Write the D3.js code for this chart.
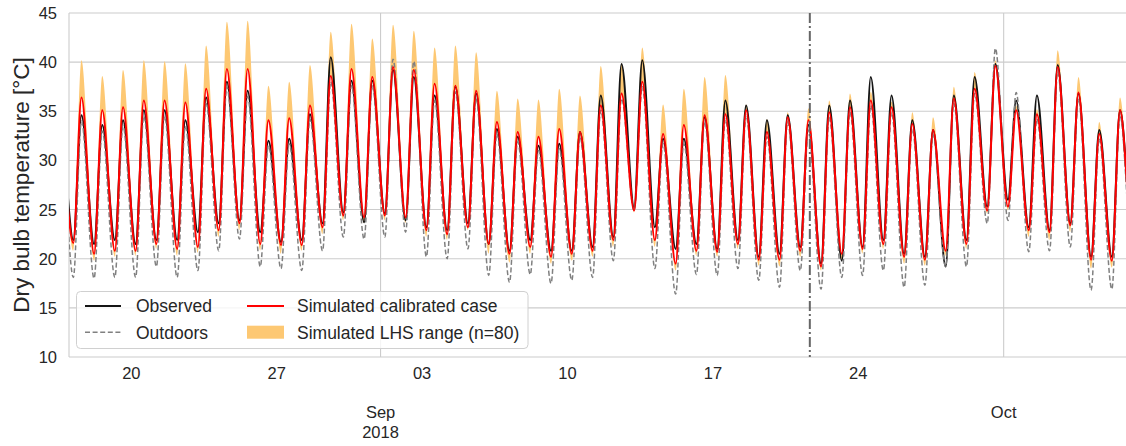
<!DOCTYPE html>
<html>
<head>
<meta charset="utf-8">
<script src="https://cdnjs.cloudflare.com/ajax/libs/d3/7.8.5/d3.min.js"></script>
<style>
body { margin: 0; background: #fff; }
svg { font-family: "Liberation Sans", Arial, sans-serif; }
</style>
</head>
<body>
<svg width="1126" height="446"></svg>
<script>
/* --------------- Datos, un valor por dia: 16 ago .. 7 oct 2018 --------------- */
const firstDay = new Date(2018, 7, 16);
const troughHour = 5;     // hora aprox. del minimo diario
const peakHour = 14.4;    // hora aprox. del maximo diario

const obsMax = [33, 34.6, 33.6, 34.1, 35.1, 35.1, 34.1, 36.4, 38.0, 37.1, 32.0, 32.2, 34.7, 40.5, 38.1, 38.1, 39.2, 38.5, 36.6, 37.5, 36.8, 33.2, 32.4, 31.5, 31.7, 32.9, 36.6, 39.8, 40.2, 32.2, 32.2, 34.4, 36.1, 35.6, 34.1, 34.6, 33.6, 35.6, 36.1, 38.5, 36.6, 34.1, 33.1, 36.6, 38.5, 39.8, 36.1, 36.6, 39.7, 36.8, 33.1, 35.1, 33];
const obsMin = [23, 21.9, 21.5, 21.9, 21.5, 21.9, 21.9, 22.7, 23.6, 23.9, 22.7, 21.7, 21.9, 23.6, 24.7, 23.7, 24.6, 23.9, 23.2, 22.9, 23.6, 21.5, 20.8, 21.9, 20.8, 20.8, 21.2, 22.2, 25.2, 23.2, 21.0, 21.5, 21.0, 21.9, 20.2, 20.5, 21.2, 19.5, 19.8, 21.2, 21.9, 20.5, 20.2, 19.2, 21.9, 25.3, 26.0, 23.2, 22.9, 23.6, 20.2, 20.2, 22.5];

const outMax = [32, 34.0, 33.0, 33.5, 34.5, 34.5, 33.5, 35.8, 37.5, 36.5, 31.5, 31.7, 34.2, 38.0, 37.6, 37.6, 40.3, 40.1, 36.1, 37.0, 36.3, 32.7, 31.9, 31.0, 31.2, 32.4, 35.1, 36.3, 37.5, 31.7, 31.7, 33.9, 34.2, 34.6, 32.4, 33.9, 33.1, 34.4, 34.9, 35.6, 34.9, 33.2, 32.6, 35.8, 36.8, 41.4, 36.9, 34.2, 39.0, 36.3, 32.2, 34.6, 32];
const outMin = [21, 18.1, 18.0, 18.1, 18.1, 19.2, 18.1, 18.8, 20.8, 22.0, 19.2, 19.0, 18.8, 20.8, 22.2, 22.0, 22.2, 22.7, 20.2, 20.0, 21.0, 18.3, 17.6, 18.4, 17.5, 17.8, 18.1, 19.8, 24.9, 19.0, 16.4, 18.4, 18.3, 19.0, 17.8, 17.1, 18.8, 16.9, 18.1, 18.3, 18.8, 17.1, 17.3, 19.2, 19.2, 23.6, 23.9, 20.7, 20.8, 21.2, 16.8, 16.9, 20];

const simMax = [31, 36.4, 35.1, 35.4, 36.1, 36.1, 35.9, 37.3, 39.3, 39.3, 34.1, 34.3, 35.6, 38.6, 39.3, 38.5, 39.5, 39.2, 37.8, 37.6, 37.1, 33.9, 32.9, 32.4, 33.2, 32.9, 35.6, 36.8, 38.0, 32.7, 33.6, 34.6, 34.7, 35.1, 32.9, 34.4, 34.1, 34.9, 35.4, 36.1, 35.4, 33.7, 33.1, 36.3, 37.3, 39.6, 35.1, 34.7, 39.5, 36.9, 32.7, 35.1, 32];
const simMin = [23, 21.6, 20.5, 20.8, 20.8, 21.5, 21.0, 21.2, 22.9, 23.6, 21.5, 21.4, 21.4, 23.2, 24.4, 24.2, 24.4, 24.2, 22.9, 22.5, 23.2, 21.5, 20.5, 21.2, 20.2, 20.5, 20.8, 21.9, 24.9, 21.9, 19.5, 20.8, 20.7, 21.5, 19.9, 19.9, 20.8, 19.2, 20.5, 21.0, 21.5, 20.2, 19.9, 20.8, 21.5, 24.9, 25.3, 22.9, 22.7, 23.4, 19.9, 19.8, 22];

const lhsMax = [33, 40.2, 38.6, 39.2, 40.2, 40.1, 39.9, 41.7, 44.1, 44.2, 37.6, 38.0, 39.7, 43.1, 43.9, 42.4, 43.8, 43.2, 41.5, 41.7, 41.0, 37.1, 36.3, 36.2, 37.3, 36.6, 39.6, 39.9, 41.5, 35.7, 37.3, 38.5, 38.7, 35.7, 34.2, 34.9, 35.3, 36.1, 36.8, 37.0, 36.0, 34.9, 34.4, 37.5, 39.0, 40.2, 35.6, 35.2, 41.2, 38.5, 33.9, 36.4, 33];
const lhsMin = [22.5, 20.8, 19.8, 20.2, 20.3, 21.0, 20.3, 20.6, 22.2, 22.9, 20.8, 20.5, 20.8, 22.5, 23.9, 23.6, 23.9, 23.6, 22.2, 21.9, 22.9, 20.5, 19.6, 20.5, 19.5, 19.8, 20.2, 21.2, 24.7, 21.2, 18.8, 20.3, 20.2, 21.0, 19.3, 19.2, 20.2, 18.8, 19.8, 20.5, 21.0, 19.5, 19.3, 20.3, 21.0, 24.6, 24.9, 22.2, 21.9, 22.7, 19.0, 19.1, 21.5];

const yTicks = [10, 15, 20, 25, 30, 35, 40, 45];
const minorTickDates = [new Date(2018, 7, 20), new Date(2018, 7, 27), new Date(2018, 8, 3), new Date(2018, 8, 10), new Date(2018, 8, 17), new Date(2018, 8, 24)];
const majorTickDates = [new Date(2018, 8, 1), new Date(2018, 9, 1)];
const majorTickLabels = [["Sep", "2018"], ["Oct"]];
const splitDate = new Date(2018, 8, 21, 16);   // linea vertical (calibracion / validacion)

const legendItems = ["Observed", "Outdoors", "Simulated calibrated case", "Simulated LHS range (n=80)"];

/* --------------- Grafica --------------- */
const svg = d3.select("svg");
const pLeft = 69, pRight = 1128.3, pTop = 13, pBottom = 357;

const x = d3.scaleTime()
    .domain([new Date(2018, 7, 17), new Date(2018, 9, 7)])
    .range([pLeft, pRight]);
const y = d3.scaleLinear().domain([10, 45]).range([pBottom, pTop]);

const days = obsMax.map((_, i) => d3.timeDay.offset(firstDay, i));
const atHour = (d, h) => new Date(+d + h * 3600e3);

function seriesPoints(mins, maxs) {
    const pts = [];
    days.forEach((d, i) => {
        pts.push({ t: atHour(d, troughHour), v: mins[i] });
        pts.push({ t: atHour(d, peakHour), v: maxs[i] });
    });
    return pts;
}

const bandPts = [];
days.forEach((d, i) => {
    bandPts.push({ t: atHour(d, troughHour), lo: lhsMin[i], hi: simMin[i] });
    bandPts.push({ t: atHour(d, peakHour), lo: simMax[i], hi: lhsMax[i] });
});

svg.append("defs").append("clipPath").attr("id", "plotclip")
    .append("rect").attr("x", pLeft).attr("y", pTop).attr("width", pRight - pLeft).attr("height", pBottom - pTop);

// grid
const grid = svg.append("g").attr("stroke", "#cccccc").attr("stroke-width", 1.1);
grid.selectAll(".hg").data(yTicks).enter().append("line")
    .attr("x1", pLeft).attr("x2", pRight)
    .attr("y1", d => y(d)).attr("y2", d => y(d));
grid.selectAll(".vg").data(majorTickDates).enter().append("line")
    .attr("x1", d => x(d)).attr("x2", d => x(d))
    .attr("y1", pTop).attr("y2", pBottom);
grid.append("line").attr("x1", pLeft).attr("x2", pLeft).attr("y1", pTop).attr("y2", pBottom);

const plot = svg.append("g").attr("clip-path", "url(#plotclip)");

plot.append("path")
    .datum(bandPts)
    .attr("fill", "#fdc873")
    .attr("d", d3.area().curve(d3.curveMonotoneX)
        .x(d => x(d.t)).y0(d => y(d.lo)).y1(d => y(d.hi)));

const line = d3.line().curve(d3.curveMonotoneX).x(d => x(d.t)).y(d => y(d.v));

plot.append("path").datum(seriesPoints(obsMin, obsMax))
    .attr("fill", "none").attr("stroke", "#151515").attr("stroke-width", 2)
    .attr("d", line);

plot.append("path").datum(seriesPoints(outMin, outMax))
    .attr("fill", "none").attr("stroke", "#808080").attr("stroke-width", 1.5)
    .attr("stroke-dasharray", "5,2.6")
    .attr("d", line);

plot.append("path").datum(seriesPoints(simMin, simMax))
    .attr("fill", "none").attr("stroke", "#ff0000").attr("stroke-width", 2)
    .attr("d", line);

// linea de division
svg.append("line")
    .attr("x1", x(splitDate)).attr("x2", x(splitDate))
    .attr("y1", pTop).attr("y2", pBottom)
    .attr("stroke", "#666").attr("stroke-width", 2)
    .attr("stroke-dasharray", "10,3,2,3");

// ejes (texto)
const txt = svg.append("g").attr("fill", "#262626").attr("font-size", 16.5);
txt.selectAll(".yt").data(yTicks).enter().append("text")
    .attr("x", 57).attr("y", d => y(d)).attr("dy", "0.36em")
    .attr("text-anchor", "end").text(d => d);

txt.selectAll(".xm").data(minorTickDates).enter().append("text")
    .attr("x", d => x(d)).attr("y", 379)
    .attr("text-anchor", "middle").text(d3.timeFormat("%d"));

majorTickDates.forEach((d, i) => {
    majorTickLabels[i].forEach((s, j) => {
        txt.append("text").attr("x", x(d)).attr("y", 418 + j * 20)
            .attr("text-anchor", "middle").text(s);
    });
});

svg.append("text")
    .attr("transform", `translate(29,${(pTop + pBottom) / 2}) rotate(-90)`)
    .attr("text-anchor", "middle").attr("fill", "#262626").attr("font-size", 22.5)
    .text("Dry bulb temperature [°C]");

/* --------------- Leyenda --------------- */
const lg = svg.append("g");
lg.append("rect").attr("x", 76.5).attr("y", 291.5).attr("width", 451.5).attr("height", 57).attr("rx", 4)
    .attr("fill", "#fff").attr("fill-opacity", 0.8).attr("stroke", "#d0d0d0");

const rows = [306, 332.2];
const cols = [85, 247];
lg.append("line").attr("x1", cols[0]).attr("x2", cols[0] + 36).attr("y1", rows[0]).attr("y2", rows[0])
    .attr("stroke", "#151515").attr("stroke-width", 2);
lg.append("line").attr("x1", cols[0]).attr("x2", cols[0] + 36).attr("y1", rows[1]).attr("y2", rows[1])
    .attr("stroke", "#808080").attr("stroke-width", 1.5).attr("stroke-dasharray", "5,2.6");
lg.append("line").attr("x1", cols[1]).attr("x2", cols[1] + 37).attr("y1", rows[0]).attr("y2", rows[0])
    .attr("stroke", "#ff0000").attr("stroke-width", 2);
lg.append("rect").attr("x", cols[1]).attr("y", rows[1] - 6.5).attr("width", 37).attr("height", 13)
    .attr("fill", "#fdc873");

legendItems.forEach((s, i) => {
    lg.append("text")
        .attr("x", i < 2 ? 136 : 297).attr("y", rows[i % 2]).attr("dy", "0.36em")
        .attr("font-size", 17.5).attr("fill", "#262626").text(s);
});
</script>
</body>
</html>
